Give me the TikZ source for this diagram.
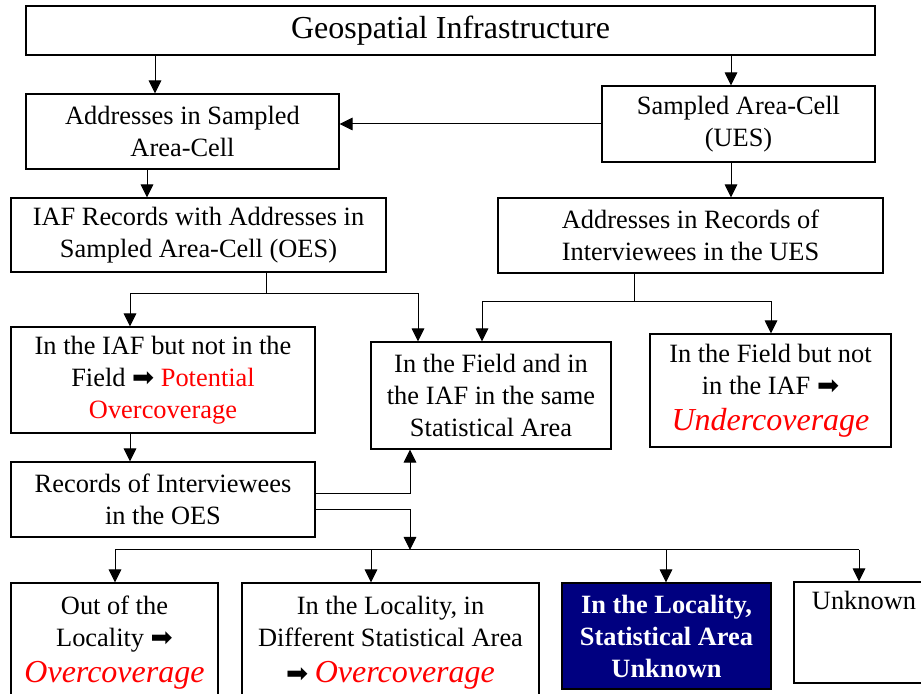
\documentclass[tikz,border=0pt]{standalone}
\usepackage{fontspec}
\setmainfont{Liberation Serif}
\newfontfamily\arrowfont{DejaVu Sans}
\usetikzlibrary{arrows.meta}
\definecolor{DNavy}{HTML}{000080}
\newcommand{\rarr}{{\arrowfont ➡}}
\newcommand{\boxfont}{\fontsize{13.2}{16}\selectfont}
\newcommand{\bigfont}{\fontsize{16}{19}\selectfont}
\newcommand{\Cov}[1]{{\color{red}\bigfont\itshape #1}}
\tikzset{
    block/.style = {draw, rectangle, line width=0.6pt,
        align=center, inner sep=0pt, font=\boxfont},
    arrow/.style = {draw, line width=0.5pt, -{Triangle[length=6.5pt,width=6.3pt]}},
    line/.style = {draw, line width=0.5pt}
}

\begin{document}
\begin{tikzpicture}[x=0.5pt,y=-0.5pt]
    \clip (0,0) rectangle (921,694);
    % top rows
    \node[block, font=\bigfont, minimum width=424.5pt, minimum height=24.5pt] (geo) at (450.5,30.5) {Geospatial Infrastructure};
    \node[block, minimum width=156.5pt, minimum height=37.5pt] (addr) at (182.5,131.5) {Addresses in Sampled\\Area-Cell};
    \node[block, minimum width=136.5pt, minimum height=38pt] (ues) at (738.5,124) {Sampled Area-Cell\\(UES)};
    \node[block, minimum width=187.5pt, minimum height=37pt] (iafrec) at (198.5,235) {IAF Records with Addresses in\\Sampled Area-Cell (OES)};
    \node[block, minimum width=192.5pt, minimum height=37.5pt] (addrues) at (690.5,235.5) {Addresses in Records of\\Interviewees in the UES};
    % middle rows
    \node[block, minimum width=152pt, minimum height=53pt] (iafnot) at (163,380) {In the IAF but not in the\\Field \rarr{} {\color{red}Potential}\\{\color{red}Overcoverage}};
    \node[block, minimum width=120pt, minimum height=53.5pt] (same) at (491,395.5) {In the Field and in\\the IAF in the same\\Statistical Area};
    \node[block, minimum width=120.5pt, minimum height=56.5pt] (fieldnot) at (770.5,390.5) {In the Field but not\\in the IAF \rarr\\[2pt]\Cov{Undercoverage}};
    \node[block, minimum width=152pt, minimum height=37.5pt] (recoes) at (163,499.5) {Records of Interviewees\\in the OES};
    % bottom row
    \node[block, minimum width=103.5pt, minimum height=60pt] (out) at (114.5,643) {Out of the\\Locality \rarr\\[2pt]\Cov{Overcoverage}};
    \node[block, minimum width=148.5pt, minimum height=60pt] (diff) at (390.5,643) {In the Locality, in\\Different Statistical Area\\[2pt]\rarr{} \Cov{Overcoverage}};
    \node[block, fill=DNavy, text=white, font=\boxfont\bfseries, minimum width=104.5pt, minimum height=53pt] (navy) at (666.5,636) {In the Locality,\\Statistical Area\\Unknown};
    \node[block, minimum width=70pt, minimum height=50.5pt] (unk) at (864,632.5) {Unknown\\~\\~};
    % connectors
    \coordinate (j1) at (266,294);
    \coordinate (j2) at (634,302);
    \coordinate (bus) at (410,550);
    \draw[arrow] (geo.south -| 155,0) -- (addr.north -| 155,0);
    \draw[arrow] (geo.south -| 731,0) -- (ues.north -| 731,0);
    \draw[arrow] (ues.west) -- (addr.east |- ues.west);
    \draw[arrow] (addr.south -| 147,0) -- (iafrec.north -| 147,0);
    \draw[arrow] (ues.south -| 731,0) -- (addrues.north -| 731,0);
    \draw[line] (iafrec.south -| j1) -- (j1);
    \draw[arrow] (j1) -| (iafnot.north -| 130,0);
    \draw[arrow] (j1) -| (same.north -| 418,0);
    \draw[line] (addrues.south -| j2) -- (j2);
    \draw[arrow] (j2) -| (same.north -| 482,0);
    \draw[arrow] (j2) -| (fieldnot.north -| 771,0);
    \draw[arrow] (iafnot.south -| 130,0) -- (recoes.north -| 130,0);
    \draw[arrow] (recoes.east |- 0,494) -| (same.south -| 410,0);
    \draw[arrow] (recoes.east |- 0,510) -| (bus);
    \draw[line] (bus -| 115,0) -- (bus -| 859,0);
    \foreach \b/\x in {out/115, diff/371, navy/666, unk/859}
        \draw[arrow] (bus -| \x,0) -- (\b.north -| \x,0);
\end{tikzpicture}
\end{document}
